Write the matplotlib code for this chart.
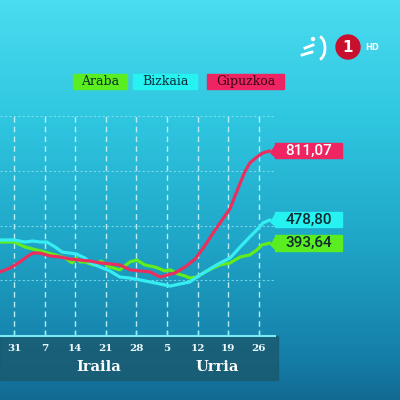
import numpy as np
import matplotlib
matplotlib.use("Agg")
import matplotlib.pyplot as plt
from matplotlib.patches import Rectangle, Circle, Arc, Polygon
from matplotlib.colors import LinearSegmentedColormap
import matplotlib.transforms as mtransforms

# days counted from 31 Aug (day 0)
araba_days = [-3.2, 0, 2.5, 4.3, 7.1, 9.4, 11.7, 13.3, 14.2, 15.1, 16.2, 18.1,
              19.9, 21.9, 24.2, 26.5, 28.1, 29.9, 32.2, 34.5, 35.7, 37.5, 39.1,
              40.2, 41.8, 43.7, 45.5, 47.1, 49.4, 51.7, 53.9, 55.5, 56.7, 58.5]
araba_vals = [366, 366, 342, 332, 317, 303, 288, 264, 288, 269, 269, 254,
              273, 244, 230, 269, 278, 254, 244, 225, 230, 210, 200,
              190, 195, 220, 239, 254, 264, 293, 303, 327, 352, 361]

bizkaia_days = [-3.2, 0, 2.5, 4.3, 5.9, 7.5, 9.4, 11.0, 12.8, 14.2, 16.2, 17.4,
                19.7, 21.9, 24.2, 26.5, 28.8, 31.1, 33.4, 35.7, 37.9, 40.2,
                41.8, 43.7, 45.5, 47.1, 49.4, 51.7, 53.9, 55.5, 56.9, 58.5]
bizkaia_vals = [376, 376, 366, 371, 366, 366, 342, 317, 312, 308, 288, 264,
                244, 225, 195, 190, 181, 171, 161, 151, 161, 171,
                195, 220, 244, 264, 288, 342, 391, 425, 459, 474]

gipuzkoa_days = [-3.2, -0.9, 1.4, 3.2, 4.3, 5.9, 8.2, 10.5, 12.8, 15.1, 17.4,
                 19.7, 24.2, 26.5, 28.8, 31.1, 33.4, 36.8, 39.1, 41.4, 43.7,
                 45.5, 47.1, 49.4, 50.5, 51.7, 52.8, 53.9, 55.5, 56.9, 58.5]
gipuzkoa_vals = [220, 239, 269, 298, 312, 312, 298, 293, 283, 278, 273,
                 264, 254, 230, 225, 220, 195, 215, 244, 283, 350,
                 410, 459, 530, 590, 654, 710, 752, 781, 801, 811]

names = ["Araba", "Bizkaia", "Gipuzkoa"]
end_labels = ["393,64", "478,80", "811,07"]
tick_days = [0, 7, 14, 21, 28, 35, 42, 49, 56]
tick_labels = ["31", "7", "14", "21", "28", "5", "12", "19", "26"]
months = ["Iraila", "Urria"]
month_days = [19.4, 46.4]

colors = ["#62ec1e", "#36eef2", "#ea2f5f"]
box_colors = ["#5aee22", "#26f2f2", "#ee2562"]
text_colors = ["#0c2a20", "#0c2a36", "#3a0614"]
serif = "DejaVu Serif"

fig = plt.figure(figsize=(4, 4), dpi=100)

# background gradient
bg = fig.add_axes([0, 0, 1, 1])
cmap = LinearSegmentedColormap.from_list(
    "bg", [(0.0, "#4adcf0"), (0.3, "#2fc6e0"), (0.6, "#1fa6c8"),
           (0.9, "#157ea8"), (1.0, "#116a92")])
bg.imshow(np.linspace(0, 1, 256).reshape(-1, 1), aspect="auto", cmap=cmap,
          extent=[0, 1, 0, 1])
bg.set_axis_off()

ax = fig.add_axes([0, 64 / 400, 275 / 400, 220 / 400])
ax.patch.set_alpha(0)

series = [(araba_days, araba_vals), (bizkaia_days, bizkaia_vals),
          (gipuzkoa_days, gipuzkoa_vals)]
for i in [2, 1, 0]:
    d, v = series[i]
    ax.plot(d, v, color=colors[i], lw=2.3, solid_capstyle="round",
            solid_joinstyle="round", zorder=3 + i)

ax.set_xlim(-3.2, 59.66)
ax.set_ylim(-93, 981.5)
ax.set_xticks(tick_days)
ax.set_xticklabels(tick_labels, fontfamily=serif, fontweight="bold",
                   fontsize=7.5, color="#eefcff")
ax.set_yticks([181, 444, 713, 981])
ax.tick_params(axis="x", direction="in", length=4, color="#8ff0fa",
               width=1, pad=6)
ax.tick_params(axis="y", left=False, labelleft=False)
ax.grid(axis="x", color="#c8f6fb", ls=(0, (4, 3)), lw=1, alpha=0.9)
ax.grid(axis="y", color="#9ae8f2", ls=(0, (2, 2)), lw=0.8, alpha=0.7)
for s in ["top", "right", "left"]:
    ax.spines[s].set_visible(False)
ax.spines["bottom"].set_color("#7beaf6")
ax.spines["bottom"].set_linewidth(1.5)
ax.spines["bottom"].set_zorder(6)

# dark band under the axis
ax.add_patch(Rectangle((0, -0.2), 1.01, 0.2, transform=ax.transAxes,
                       color="#1a5a70", alpha=0.85, clip_on=False, zorder=0))
trans = mtransforms.blended_transform_factory(ax.transData, ax.transAxes)
for m, md in zip(months, month_days):
    ax.text(md, -0.14, m, transform=trans, ha="center", va="center",
            fontfamily=serif, fontweight="bold", fontsize=10.5, color="white")

# end value labels
lab_trans = mtransforms.blended_transform_factory(ax.transAxes, ax.transData)
for i, (d, v) in enumerate(series):
    y = v[-1]
    ax.add_patch(Rectangle((1.0, y - 37), 0.245, 74, transform=lab_trans,
                           color=box_colors[i], clip_on=False, zorder=7))
    ax.add_patch(Polygon([(0.985, y - 10), (1.001, y + 25), (1.001, y - 30)],
                         closed=True, transform=lab_trans,
                         color=box_colors[i], clip_on=False, zorder=7))
    ax.text(1.122, y, end_labels[i], transform=lab_trans, ha="center",
            va="center", fontfamily="Roboto", fontweight="medium",
            fontsize=11, color="white" if i == 2 else "#0e2a30", zorder=8)

# legend boxes
leg_x = [73, 133, 207]
leg_w = [54, 64, 77]
for i, n in enumerate(names):
    fig.patches.append(Rectangle((leg_x[i] / 400, (400 - 89) / 400),
                                 leg_w[i] / 400, 15 / 400,
                                 transform=fig.transFigure,
                                 color=box_colors[i], zorder=2))
    fig.text((leg_x[i] + leg_w[i] / 2) / 400, (400 - 81.5) / 400, n,
             ha="center", va="center", fontfamily=serif, fontsize=9,
             color=text_colors[i], zorder=3)

# channel logo
fig.patches.append(Circle((348 / 400, 353 / 400), 12 / 400,
                          transform=fig.transFigure, color="#c8102e",
                          zorder=3))
fig.text(348 / 400, 352 / 400, "1", ha="center", va="center", color="white",
         fontsize=11, fontweight="bold", fontfamily="DejaVu Sans", zorder=4)
fig.text(372 / 400, 353 / 400, "HD", ha="center", va="center", color="white",
         fontsize=6, fontweight="bold", fontfamily="DejaVu Sans", zorder=4)
fig.patches.append(Arc((318 / 400, 352 / 400), 14 / 400, 24 / 400,
                       theta1=-80, theta2=80, transform=fig.transFigure,
                       color="white", lw=2, zorder=3))
fig.lines.append(plt.Line2D([302 / 400, 312 / 400], [345 / 400, 348 / 400],
                            transform=fig.transFigure, color="white", lw=2))
fig.lines.append(plt.Line2D([305 / 400, 313 / 400], [352 / 400, 355 / 400],
                            transform=fig.transFigure, color="white", lw=2))
fig.patches.append(Circle((313 / 400, 361 / 400), 1.5 / 400,
                          transform=fig.transFigure, color="white"))

fig.savefig("out.png", dpi=100)
